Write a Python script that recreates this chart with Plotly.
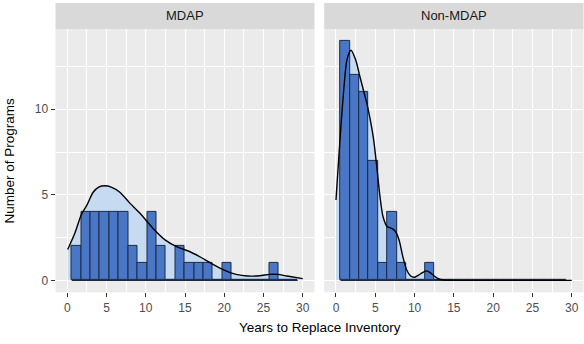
import plotly.graph_objects as go

# ---- data -------------------------------------------------------------
panels = ["MDAP", "Non-MDAP"]

bin_start = 0.56      # left edge of the first bin (years)
bin_width = 1.2       # bin width (years)

mdap_counts = [2, 4, 4, 4, 4, 4, 2, 1, 4, 2, 0, 2, 1, 1, 1, 0, 1, 0, 0, 0, 0, 1, 0, 0]
nonmdap_counts = [14, 12, 11, 7, 1, 4, 1, 0, 0, 1, 0, 0, 0, 0, 0, 0, 0, 0, 0, 0, 0, 0, 0, 0]

# count-scaled density curves
mdap_dens_x = [0.05, 1.0, 1.8, 2.5, 3.3, 4.0, 4.8, 5.6, 6.7, 8.0, 9.2, 10.9, 12.5, 14.0,
               15.5, 17.0, 18.5, 20.0, 21.5, 23.0, 24.5, 25.8, 26.8, 28.0, 30.0]
mdap_dens_y = [1.8, 2.8, 3.85, 4.4, 5.15, 5.45, 5.53, 5.45, 5.15, 4.5, 3.95, 3.05, 2.35, 1.95,
               1.7, 1.35, 0.95, 0.6, 0.35, 0.25, 0.27, 0.35, 0.35, 0.25, 0.1]

nonmdap_dens_x = [0.0, 0.3, 0.6, 1.0, 1.4, 1.9, 2.5, 3.05, 3.5, 3.9, 4.4, 4.8, 5.2, 5.6, 6.0,
                  6.5, 7.0, 7.5, 8.0, 8.5, 9.0, 9.5, 10.0, 10.5, 11.0, 11.5, 12.0, 12.5, 13.0,
                  13.7, 15.0, 20.0, 25.0, 30.0]
nonmdap_dens_y = [4.7, 6.8, 8.8, 11.2, 12.9, 13.45, 12.9, 11.9, 11.1, 10.4, 9.3, 8.2, 6.6, 4.9,
                  3.7, 3.15, 3.05, 2.9, 2.4, 1.4, 0.6, 0.25, 0.18, 0.3, 0.45, 0.55, 0.45, 0.25,
                  0.1, 0.02, 0.0, 0.0, 0.0, 0.0]

x_ticks = [0, 5, 10, 15, 20, 25, 30]
y_ticks = [0, 5, 10]

# ---- style ------------------------------------------------------------
W, H = 584, 344
FONT = "Liberation Sans, Arial, Helvetica, sans-serif"
BAR_FILL = "#4A76C6"
BAR_EDGE = "#1B2A45"
DENS_FILL = "#C6DAF1"
PANEL_BG = "#EBEBEB"
STRIP_BG = "#D9D9D9"

X_RANGE = [-1.5, 31.5]
Y_RANGE = [-0.7, 14.7]

# panel boxes in pixels
left_box = (55.5, 314.5)
right_box = (324.2, 583.5)
panel_top, panel_bottom = 28.9, 292.3
strip_top = 3.0


def fx(p):
    return p / W


def fy(p):
    return 1 - p / H


def bin_centers(counts):
    return [bin_start + bin_width * (i + 0.5) for i in range(len(counts))]


fig = go.Figure()

series = [
    (mdap_counts, mdap_dens_x, mdap_dens_y, "x", "y", "y3"),
    (nonmdap_counts, nonmdap_dens_x, nonmdap_dens_y, "x2", "y2", "y4"),
]

for counts, dx, dy, xa, ya, ya_top in series:
    # density area sits under the bars
    fig.add_trace(go.Scatter(
        x=dx, y=dy, mode="lines", line=dict(width=0, shape="spline", smoothing=0.8),
        fill="tozeroy", fillcolor=DENS_FILL, hoverinfo="skip", showlegend=False,
        xaxis=xa, yaxis=ya))
    # histogram bars
    fig.add_trace(go.Bar(
        x=bin_centers(counts), y=counts, width=bin_width,
        marker=dict(color=BAR_FILL, line=dict(color=BAR_EDGE, width=1)),
        showlegend=False, xaxis=xa, yaxis=ya_top))
    # zero-count bins still show their baseline
    edges = [bin_start, bin_start + bin_width * len(counts)]
    fig.add_trace(go.Scatter(
        x=edges, y=[0, 0], mode="lines", line=dict(color=BAR_EDGE, width=1.2),
        hoverinfo="skip", showlegend=False, xaxis=xa, yaxis=ya_top))
    # density outline on top
    fig.add_trace(go.Scatter(
        x=dx, y=dy, mode="lines", line=dict(color="black", width=1.4, shape="spline", smoothing=0.8),
        hoverinfo="skip", showlegend=False, xaxis=xa, yaxis=ya_top))

common_x = dict(
    range=X_RANGE, tickvals=x_ticks, ticks="outside", ticklen=4, tickwidth=1,
    tickcolor="#333333", tickfont=dict(family=FONT, size=12, color="#4D4D4D"),
    showgrid=True, gridcolor="white", gridwidth=1.4, zeroline=False, showline=False,
    minor=dict(dtick=2.5, tick0=0, showgrid=True, gridcolor="white", gridwidth=0.7),
    fixedrange=True,
)
common_y = dict(
    range=Y_RANGE, tickvals=y_ticks, ticks="outside", ticklen=4, tickwidth=1,
    tickcolor="#333333", tickfont=dict(family=FONT, size=12, color="#4D4D4D"),
    showgrid=True, gridcolor="white", gridwidth=1.4, zeroline=False, showline=False,
    minor=dict(dtick=2.5, tick0=0, showgrid=True, gridcolor="white", gridwidth=0.7),
    fixedrange=True,
)
y_domain = [fy(panel_bottom), fy(panel_top)]

fig.update_layout(
    width=W, height=H,
    margin=dict(l=0, r=0, t=0, b=0),
    paper_bgcolor="white", plot_bgcolor=PANEL_BG,
    barmode="overlay", bargap=0,
    xaxis=dict(domain=[fx(left_box[0]), fx(left_box[1])], anchor="y", **common_x),
    yaxis=dict(domain=y_domain, anchor="x", **common_y),
    xaxis2=dict(domain=[fx(right_box[0]), fx(right_box[1])], anchor="y2", **common_x),
    yaxis2=dict(domain=y_domain, anchor="x2", **{**common_y, "ticks": "", "showticklabels": False}),
    yaxis3=dict(overlaying="y", anchor="x", range=Y_RANGE, visible=False, showgrid=False, fixedrange=True),
    yaxis4=dict(overlaying="y2", anchor="x2", range=Y_RANGE, visible=False, showgrid=False, fixedrange=True),
)

# facet strips
for name, (x0, x1) in zip(panels, [left_box, right_box]):
    fig.add_shape(type="rect", xref="paper", yref="paper",
                  x0=fx(x0), x1=fx(x1), y0=fy(panel_top), y1=fy(strip_top),
                  fillcolor=STRIP_BG, line=dict(width=0), layer="below")
    fig.add_annotation(text=name, xref="paper", yref="paper",
                       x=fx((x0 + x1) / 2), y=fy((panel_top + strip_top) / 2),
                       showarrow=False, xanchor="center", yanchor="middle",
                       font=dict(family=FONT, size=13, color="#1A1A1A"))

# axis titles
fig.add_annotation(text="Years to Replace Inventory", xref="paper", yref="paper",
                   x=fx((left_box[0] + right_box[1]) / 2), y=fy(327),
                   showarrow=False, xanchor="center", yanchor="middle",
                   font=dict(family=FONT, size=13.5, color="black"))
fig.add_annotation(text="Number of Programs", xref="paper", yref="paper",
                   x=fx(10), y=fy((panel_top + panel_bottom) / 2), textangle=-90,
                   showarrow=False, xanchor="center", yanchor="middle",
                   font=dict(family=FONT, size=13.5, color="black"))

fig.write_html("out.html", config={"displayModeBar": False})
